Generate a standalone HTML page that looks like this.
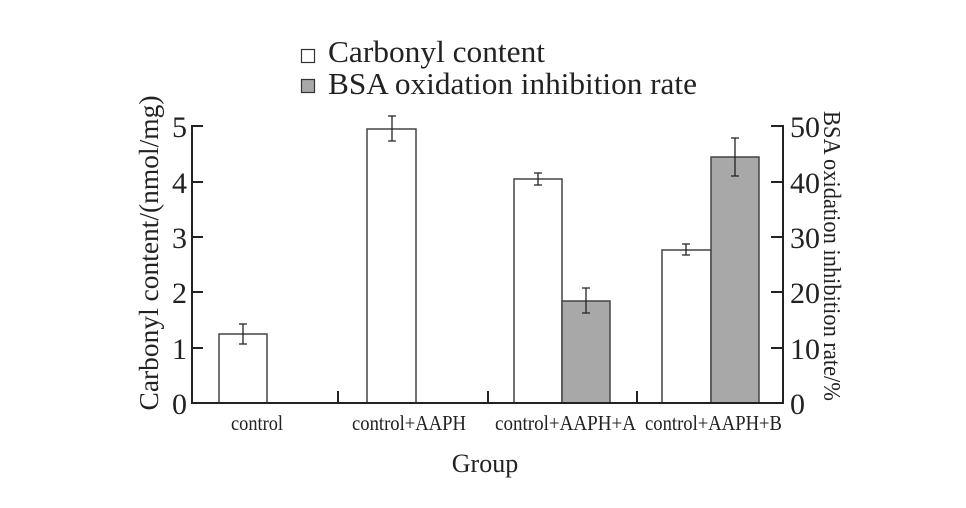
<!DOCTYPE html>
<html><head><meta charset="utf-8"><style>html,body{margin:0;padding:0;background:#fff}</style></head>
<body>
<svg width="966" height="503" xmlns="http://www.w3.org/2000/svg" font-family="Liberation Serif, serif" fill="#222">
<rect width="966" height="503" fill="#fff"/>
<!-- legend -->
<rect x="301.5" y="49.5" width="13" height="13" fill="#fff" stroke="#333" stroke-width="1.2"/>
<rect x="301.5" y="79.5" width="13" height="13" fill="#a8a8a8" stroke="#333" stroke-width="1.2"/>
<text x="328" y="62" font-size="31" textLength="217" lengthAdjust="spacingAndGlyphs">Carbonyl content</text>
<text x="328" y="94" font-size="31" textLength="369" lengthAdjust="spacingAndGlyphs">BSA oxidation inhibition rate</text>
<!-- bars -->
<g stroke="#444" stroke-width="1.5">
<rect x="219" y="334" width="48" height="69" fill="#fff"/>
<rect x="367" y="129" width="49" height="274" fill="#fff"/>
<rect x="514" y="179" width="48" height="224" fill="#fff"/>
<rect x="562" y="301" width="48" height="102" fill="#a8a8a8"/>
<rect x="662" y="250" width="49" height="153" fill="#fff"/>
<rect x="711" y="157" width="48" height="246" fill="#a8a8a8"/>
</g>
<!-- error bars -->
<g stroke="#222" stroke-width="1.3" fill="none">
<path d="M243 324V344M239 324H247M239 344H247"/>
<path d="M392 116V141M388 116H396M388 141H396"/>
<path d="M538 173V185M534 173H542M534 185H542"/>
<path d="M586 288V313M582 288H590M582 313H590"/>
<path d="M686 244V255M682 244H690M682 255H690"/>
<path d="M735 138V176M731 138H739M731 176H739"/>
</g>
<!-- axes -->
<g stroke="#222" stroke-width="2" fill="none">
<path d="M192 125V403H783V125"/>
<path d="M192 126H203M192 182H203M192 237H203M192 292H203M192 348H203"/>
<path d="M783 126H771M783 182H771M783 237H771M783 292H771M783 348H771"/>
<path d="M338 403V391M488 403V391M637 403V391"/>
</g>
<g font-size="30" text-anchor="end">
<text x="187" y="137">5</text><text x="187" y="193">4</text><text x="187" y="248">3</text>
<text x="187" y="303">2</text><text x="187" y="359">1</text><text x="187" y="414">0</text>
</g>
<g font-size="30">
<text x="790" y="137">50</text><text x="790" y="193">40</text><text x="790" y="248">30</text>
<text x="790" y="303">20</text><text x="790" y="359">10</text><text x="790" y="414">0</text>
</g>
<g font-size="21">
<text x="231" y="430" textLength="52" lengthAdjust="spacingAndGlyphs">control</text>
<text x="352" y="430" textLength="114" lengthAdjust="spacingAndGlyphs">control+AAPH</text>
<text x="495" y="430" textLength="141" lengthAdjust="spacingAndGlyphs">control+AAPH+A</text>
<text x="645" y="430" textLength="137" lengthAdjust="spacingAndGlyphs">control+AAPH+B</text>
</g>
<text x="485" y="472" font-size="26" text-anchor="middle">Group</text>
<text transform="translate(158,253) rotate(-90)" font-size="27" text-anchor="middle" textLength="315" lengthAdjust="spacingAndGlyphs">Carbonyl content/(nmol/mg)</text>
<text transform="translate(824,256) rotate(90)" font-size="24" text-anchor="middle" textLength="290" lengthAdjust="spacingAndGlyphs">BSA oxidation inhibition rate/%</text>
</svg>
</body></html>
